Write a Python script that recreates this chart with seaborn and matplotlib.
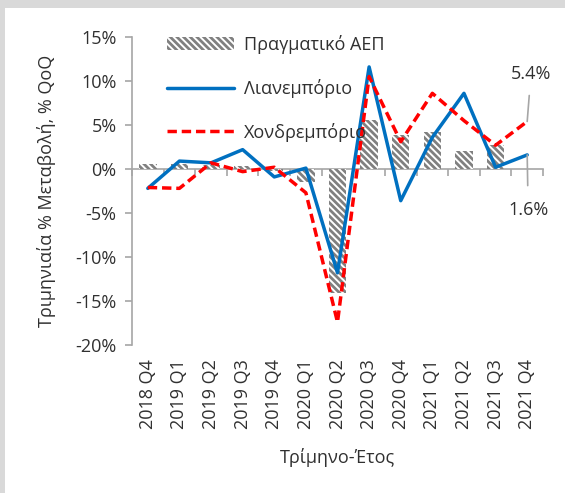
import numpy as np
import pandas as pd
import matplotlib
matplotlib.use("Agg")
import matplotlib.pyplot as plt
import seaborn as sns
from matplotlib.patches import Patch, Rectangle
from matplotlib.lines import Line2D
from matplotlib.ticker import FuncFormatter, FixedLocator, NullLocator

# Data (% QoQ)
quarters = ["2018 Q4", "2019 Q1", "2019 Q2", "2019 Q3", "2019 Q4", "2020 Q1", "2020 Q2",
            "2020 Q3", "2020 Q4", "2021 Q1", "2021 Q2", "2021 Q3", "2021 Q4"]
gdp = [0.6, 0.6, 0.5, 0.3, -0.2, -1.5, -14.1, 5.6, 3.9, 4.2, 2.0, 2.7, np.nan]
retail = [-2.2, 0.9, 0.7, 2.2, -0.9, 0.1, -11.8, 11.6, -3.6, 3.6, 8.6, 0.2, 1.6]
wholesale = [-2.1, -2.2, 0.7, -0.3, 0.2, -2.7, -17.4, 10.5, 3.1, 8.6, 5.5, 2.7, 5.4]

labels = ["Πραγματικό ΑΕΠ", "Λιανεμπόριο", "Χονδρεμπόριο"]

df = pd.DataFrame({"quarter": quarters, "gdp": gdp, "retail": retail, "wholesale": wholesale})
df["pos"] = range(len(df))

sns.set_style("white")
plt.rcParams["font.family"] = ["Open Sans", "DejaVu Sans"]
plt.rcParams["hatch.linewidth"] = 2.0
text_col = "#303030"
axis_col = "#a6a6a6"
fs = 13

fig = plt.figure(figsize=(5.65, 4.93), dpi=100, facecolor="#d9d9d9")
# white panel inside the grey frame
fig.patches.append(Rectangle((5 / 565, 0), 1, 1 - 8 / 493, transform=fig.transFigure,
                             facecolor="white", edgecolor="none", zorder=-10))
ax = fig.add_axes([132 / 565, 1 - 345 / 493, (543 - 132) / 565, (345 - 37) / 493])
ax.set_facecolor("white")

# GDP bars (hatched)
sns.barplot(data=df, x="pos", y="gdp", native_scale=True, width=0.55, color="white",
            edgecolor="#808080", linewidth=0, hatch="\\\\\\\\\\", ax=ax, zorder=1)

# lines
sns.lineplot(data=df, x="pos", y="retail", color="#0070c0", linewidth=2.5, sort=False, ax=ax, zorder=3)
sns.lineplot(data=df, x="pos", y="wholesale", color="#ff0000", linewidth=2.5, sort=False,
             linestyle=(0, (2.7, 1.4)), ax=ax, zorder=4)

ax.set_xlim(-0.5, len(quarters) - 0.5)
ax.set_ylim(-20, 15)
ax.set_yticks(np.arange(-20, 16, 5))
ax.yaxis.set_major_formatter(FuncFormatter(lambda v, p: f"{v:.0f}%"))

for s in ["top", "right", "bottom"]:
    ax.spines[s].set_visible(False)
ax.spines["left"].set_color(axis_col)
ax.spines["left"].set_linewidth(1.2)
ax.tick_params(axis="y", direction="out", length=5, width=1.2, color=axis_col,
               labelsize=fs, labelcolor=text_col, left=True, pad=6)

ax.set_xticks(df["pos"])
ax.set_xticklabels(quarters, rotation=90)
ax.tick_params(axis="x", length=0, labelsize=fs, labelcolor=text_col, pad=10)

# category axis drawn along y = 0
zero_axis = ax.secondary_xaxis(0, transform=ax.transData)
zero_axis.spines["bottom"].set_color(axis_col)
zero_axis.spines["bottom"].set_linewidth(1.2)
zero_axis.xaxis.set_major_locator(FixedLocator(np.arange(-0.5, len(quarters), 1.0)))
zero_axis.xaxis.set_minor_locator(NullLocator())
zero_axis.tick_params(axis="x", direction="out", length=5, width=1.2, color=axis_col,
                      labelbottom=False)

ax.set_xlabel("Τρίμηνο-Έτος", fontsize=fs, color=text_col, labelpad=14)
ax.set_ylabel("Τριμηνιαία % Μεταβολή, % QoQ", fontsize=fs, color=text_col, labelpad=14)

# end-point labels
last = len(quarters) - 1
ax.annotate(f"{wholesale[-1]:.1f}%", xy=(last, wholesale[-1]), xytext=(last + 0.12, 10.85),
            ha="center", va="center", fontsize=fs, color=text_col,
            arrowprops=dict(arrowstyle="-", color=axis_col, lw=1.2, shrinkA=7, shrinkB=0))
ax.annotate(f"{retail[-1]:.1f}%", xy=(last, retail[-1]), xytext=(last + 0.03, -4.7),
            ha="center", va="center", fontsize=fs, color=text_col,
            arrowprops=dict(arrowstyle="-", color=axis_col, lw=1.2, shrinkA=9, shrinkB=0))

handles = [Patch(facecolor="white", edgecolor="#808080", linewidth=0, hatch="\\\\\\\\\\"),
           Line2D([], [], color="#0070c0", linewidth=2.5),
           Line2D([], [], color="#ff0000", linewidth=2.5, linestyle=(0, (2.7, 1.4)))]
ax.legend(handles, labels, loc="upper left", bbox_to_anchor=(0.068, 1.03), frameon=False,
          fontsize=fs, handlelength=3.7, handletextpad=0.55, labelspacing=1.38,
          labelcolor=text_col, borderaxespad=0)

fig.savefig("out.png", dpi=100, facecolor=fig.get_facecolor())
